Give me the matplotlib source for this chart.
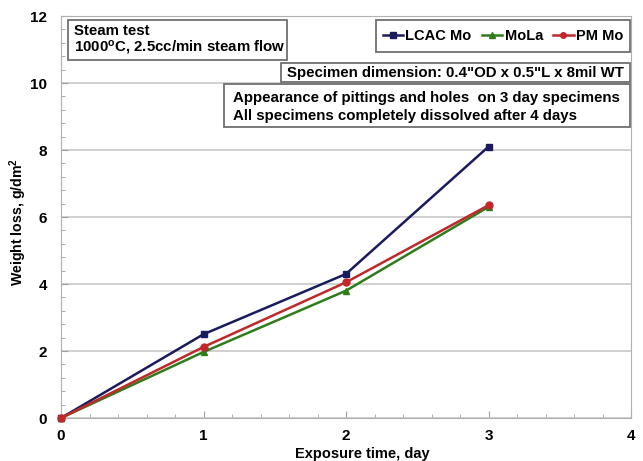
import matplotlib
matplotlib.use("Agg")
import matplotlib.pyplot as plt
from matplotlib.ticker import MultipleLocator
from matplotlib.patches import Rectangle

plt.rcParams['font.family'] = ['Liberation Sans', 'DejaVu Sans']
plt.rcParams['font.weight'] = 'bold'
plt.rcParams['mathtext.default'] = 'regular'

days = [0, 1, 2, 3]
lcac = [0.0, 2.5, 4.3, 8.1]
mola = [0.0, 1.97, 3.8, 6.3]
pmmo = [0.0, 2.12, 4.05, 6.35]
series_names = ["LCAC Mo", "MoLa", "PM Mo"]
colors = ["#1a1a5e", "#2e7d1a", "#c0282a"]
markers = ["s", "^", "o"]

W, H = 643, 461
AX_L, AX_R, AX_T, AX_B = 61, 631, 16, 418
fig = plt.figure(figsize=(W / 100, H / 100), dpi=100)
ax = fig.add_axes([AX_L / W, 1 - AX_B / H, (AX_R - AX_L) / W, (AX_B - AX_T) / H])


def fx(px):
    return (px - AX_L) / (AX_R - AX_L)


def fy(py):
    return (AX_B - py) / (AX_B - AX_T)


handles = []
for vals, name, c, m in zip([lcac, mola, pmmo], series_names, colors, markers):
    ln, = ax.plot(days, vals, color=c, marker=m, markersize=5, lw=1.8, label=name,
                  clip_on=False, zorder=3)
    handles.append(ln)

ax.set_xlim(0, 4)
ax.set_ylim(0, 12)
ax.xaxis.set_major_locator(MultipleLocator(1))
ax.xaxis.set_minor_locator(MultipleLocator(0.2))
ax.yaxis.set_major_locator(MultipleLocator(2))
ax.yaxis.set_minor_locator(MultipleLocator(0.4))
ax.grid(axis='y', which='major', color='#c8c8c8', lw=1.2)
ax.set_axisbelow(True)
for s in ax.spines.values():
    s.set_color('#b0b0b0')
ax.tick_params(which='both', direction='in', color='#a0a0a0', labelsize=11)
ax.tick_params(which='major', length=5)
ax.tick_params(which='minor', length=3)
ax.tick_params(axis='x', pad=8)
ax.tick_params(axis='y', pad=10)

ax.set_xlabel("Exposure time, day", fontsize=10.5, fontweight='bold')
ax.xaxis.set_label_coords(0.528, -0.072)
ax.set_ylabel("Weight loss, g/dm$^2$", fontsize=10.2, fontweight='bold')
ax.yaxis.set_label_coords(fx(29), fy(222))

FS = 10.8


def box(x0, y0, x1, y1):
    ax.add_patch(Rectangle((fx(x0), fy(y1)), fx(x1) - fx(x0), fy(y0) - fy(y1),
                           transform=ax.transAxes, fc='white', ec='#707070', lw=1.3,
                           zorder=4, clip_on=False))


# Steam test box
box(68, 20, 287, 60)
ax.text(fx(74), fy(31), "Steam test", transform=ax.transAxes, ha='left', va='center',
        fontsize=FS, fontweight='bold', zorder=5)
ax.text(fx(74), fy(48), "1000$^{o}$C, 2.5cc/min steam flow", transform=ax.transAxes,
        ha='left', va='center', fontsize=FS, fontweight='bold', zorder=5)

# Specimen box
box(281, 63, 630, 82)
ax.text(fx(287), fy(72.5), "Specimen dimension: 0.4\"OD x 0.5\"L x 8mil WT",
        transform=ax.transAxes, ha='left', va='center', fontsize=FS, fontweight='bold', zorder=5)

# Appearance box
box(224, 84, 630, 127)
ax.text(fx(233), fy(98), "Appearance of pittings and holes  on 3 day specimens",
        transform=ax.transAxes, ha='left', va='center', fontsize=FS, fontweight='bold', zorder=5)
ax.text(fx(233), fy(116), "All specimens completely dissolved after 4 days",
        transform=ax.transAxes, ha='left', va='center', fontsize=FS, fontweight='bold', zorder=5)

# Legend box
box(376, 20, 630, 52)
leg = ax.legend(handles=handles, loc='center', bbox_to_anchor=(fx(503), fy(36)), ncol=3,
                frameon=False, fontsize=10.5, handlelength=1.4, handletextpad=0.15,
                columnspacing=0.7, markerscale=0.8)
leg.set_zorder(6)

fig.savefig("out.png", dpi=100)
